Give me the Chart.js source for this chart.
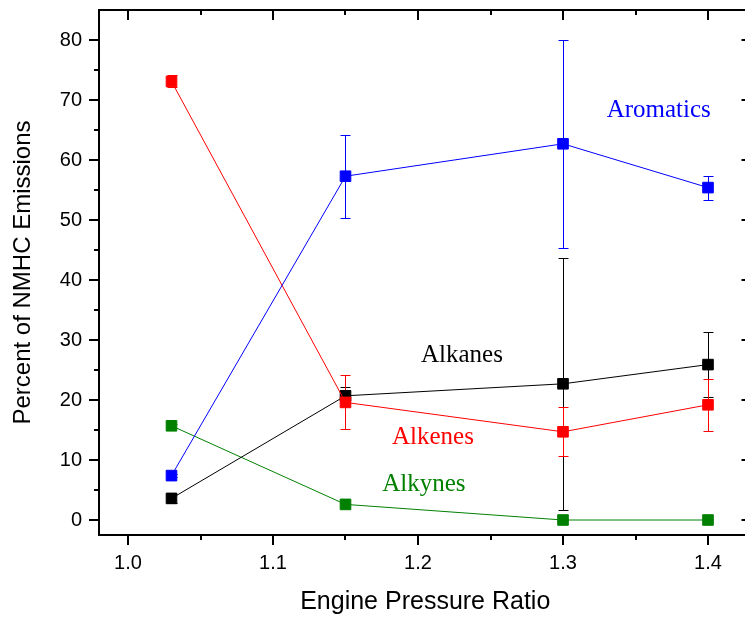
<!DOCTYPE html>
<html><head><meta charset="utf-8">
<script src="https://cdn.jsdelivr.net/npm/chart.js@4.4.1/dist/chart.umd.min.js"></script>
<style>html,body{margin:0;padding:0;overflow:hidden;background:#fff;width:745px;height:617px}</style>
</head><body>
<canvas id="c" width="760" height="617"></canvas>
<script>
// ---- data ----
const pressureRatio = [1.03, 1.15, 1.30, 1.40];
const aromatics    = [7.4, 57.3, 62.7, 55.4];
const aromaticsErr = [0.3, 6.9, 17.3, 2.0];
const alkanes      = [3.6, 20.7, 22.7, 25.9];
const alkanesErr   = [0.7, 1.5, 21.0, 5.4];
const alkenes      = [73.1, 19.6, 14.7, 19.2];
const alkenesErr   = [1.0, 4.5, 4.1, 4.35];
const alkynes      = [15.7, 2.6, 0.0, 0.0];
const alkynesErr   = [0.3, 0.3, 0.2, 0.2];
const xTickValues = [1.0, 1.1, 1.2, 1.3, 1.4];
const xTickLabels = ['1.0', '1.1', '1.2', '1.3', '1.4'];
const xMinorTicks = [1.05, 1.15, 1.25, 1.35];
const yTickValues = [0, 10, 20, 30, 40, 50, 60, 70, 80];
const yTickLabels = ['0', '10', '20', '30', '40', '50', '60', '70', '80'];
const yMinorTicks = [5, 15, 25, 35, 45, 55, 65, 75];
const seriesNames = ['Aromatics', 'Alkenes', 'Alkanes', 'Alkynes'];
// annotation label anchors (data coords)
const labelX = [1.366, 1.2103, 1.2303, 1.204];
const labelY = [68.2, 13.7, 27.5, 6.0];

const colors = ['#0000ff', '#ff0000', '#000000', '#008000'];
const values = [aromatics, alkenes, alkanes, alkynes];
const errs = [aromaticsErr, alkenesErr, alkanesErr, alkynesErr];

const datasets = seriesNames.map((n, i) => ({
  label: n,
  data: pressureRatio.map((x, j) => ({x: x, y: values[i][j]})),
  err: errs[i],
  borderColor: colors[i],
  backgroundColor: colors[i],
  pointBackgroundColor: colors[i],
  pointBorderColor: colors[i],
  borderWidth: 1,
  pointBorderWidth: 1,
  pointStyle: 'rect',
  pointRadius: 7.5,
  showLine: true,
  tension: 0,
}));

const errorBars = {
  id: 'errorBars',
  beforeDatasetsDraw(chart) {
    const ctx = chart.ctx, xs = chart.scales.x, ys = chart.scales.y;
    ctx.save();
    for (let i = chart.data.datasets.length - 1; i >= 0; i--) {
      const ds = chart.data.datasets[i];
      ctx.strokeStyle = ds.borderColor;
      ctx.lineWidth = 1;
      ds.data.forEach((p, j) => {
        const e = ds.err[j];
        const px = Math.round(xs.getPixelForValue(p.x)) + 0.5;
        const y1 = Math.round(ys.getPixelForValue(p.y + e)) + 0.5;
        const y2 = Math.round(ys.getPixelForValue(p.y - e)) + 0.5;
        ctx.beginPath();
        ctx.moveTo(px, y1); ctx.lineTo(px, y2);
        ctx.moveTo(px - 5, y1); ctx.lineTo(px + 5, y1);
        ctx.moveTo(px - 5, y2); ctx.lineTo(px + 5, y2);
        ctx.stroke();
      });
    }
    ctx.restore();
  }
};

const frame = {
  id: 'frame',
  afterDraw(chart) {
    const ctx = chart.ctx, xs = chart.scales.x, ys = chart.scales.y;
    const a = chart.chartArea;
    ctx.save();
    ctx.strokeStyle = '#000';
    ctx.lineWidth = 2;
    ctx.beginPath();
    ctx.moveTo(a.left, a.top); ctx.lineTo(a.left, a.bottom);
    ctx.moveTo(a.left - 1, a.bottom); ctx.lineTo(a.right, a.bottom);
    ctx.moveTo(a.left - 1, a.top); ctx.lineTo(a.right + 1, a.top);
    ctx.moveTo(a.right, a.top); ctx.lineTo(a.right, a.bottom);
    ctx.stroke();
    ctx.beginPath();
    xTickValues.forEach(v => {
      const x = Math.round(xs.getPixelForValue(v));
      ctx.moveTo(x, a.bottom); ctx.lineTo(x, a.bottom + 10);
      ctx.moveTo(x, a.top); ctx.lineTo(x, a.top + 10);
    });
    xMinorTicks.forEach(v => {
      const x = Math.round(xs.getPixelForValue(v));
      ctx.moveTo(x, a.bottom); ctx.lineTo(x, a.bottom + 5);
      ctx.moveTo(x, a.top); ctx.lineTo(x, a.top + 5);
    });
    yTickValues.forEach(v => {
      const y = Math.round(ys.getPixelForValue(v));
      ctx.moveTo(a.left, y); ctx.lineTo(a.left - 10, y);
      ctx.moveTo(a.right, y); ctx.lineTo(a.right - 10, y);
    });
    yMinorTicks.forEach(v => {
      const y = Math.round(ys.getPixelForValue(v));
      ctx.moveTo(a.left, y); ctx.lineTo(a.left - 5, y);
    });
    ctx.stroke();
    // series annotations
    ctx.font = '25px "Liberation Serif", "Times New Roman", serif';
    ctx.textAlign = 'center';
    ctx.textBaseline = 'middle';
    seriesNames.forEach((n, i) => {
      ctx.fillStyle = colors[i];
      ctx.fillText(n, xs.getPixelForValue(labelX[i]), ys.getPixelForValue(labelY[i]));
    });
    ctx.restore();
  }
};

new Chart(document.getElementById('c'), {
  type: 'scatter',
  data: { datasets },
  plugins: [errorBars, frame],
  options: {
    responsive: false,
    animation: false,
    events: [],
    layout: { padding: { top: 10, right: 8.5, left: 0, bottom: 0 } },
    plugins: { legend: { display: false }, tooltip: { enabled: false } },
    scales: {
      x: {
        type: 'linear', min: 0.98, max: 1.43,
        grid: { display: false, drawTicks: false },
        border: { display: false },
        afterBuildTicks: s => { s.ticks = xTickValues.map(v => ({ value: v })); },
        afterFit: s => { s.height = 82; s.paddingLeft = 0; s.paddingRight = 0; s.paddingTop = 0; s.paddingBottom = 0; },
        ticks: {
          padding: 16, color: '#000', maxRotation: 0, autoSkip: false,
          font: { family: '"Liberation Sans", Arial, sans-serif', size: 20 },
          callback: (v) => { const k = xTickValues.findIndex(t => Math.abs(t - v) < 1e-9); return k >= 0 ? xTickLabels[k] : ''; }
        },
        title: {
          display: true, text: 'Engine Pressure Ratio', color: '#000',
          font: { family: '"Liberation Sans", Arial, sans-serif', size: 25 },
          padding: { top: 0, bottom: 0 }
        }
      },
      y: {
        type: 'linear', min: -2.5, max: 85,
        grid: { display: false, drawTicks: false },
        border: { display: false },
        afterBuildTicks: s => { s.ticks = yTickValues.map(v => ({ value: v })); },
        afterFit: s => { s.width = 99; s.paddingLeft = 0; s.paddingRight = 0; s.paddingTop = 0; s.paddingBottom = 0; },
        ticks: {
          padding: 17, color: '#000', autoSkip: false,
          font: { family: '"Liberation Sans", Arial, sans-serif', size: 20 },
          callback: (v) => { const k = yTickValues.indexOf(v); return k >= 0 ? yTickLabels[k] : ''; }
        },
        title: {
          display: true, text: 'Percent of NMHC Emissions', color: '#000',
          font: { family: '"Liberation Sans", Arial, sans-serif', size: 24 },
          padding: { top: 9, bottom: 0 }
        }
      }
    }
  }
});
</script>
</body></html>
